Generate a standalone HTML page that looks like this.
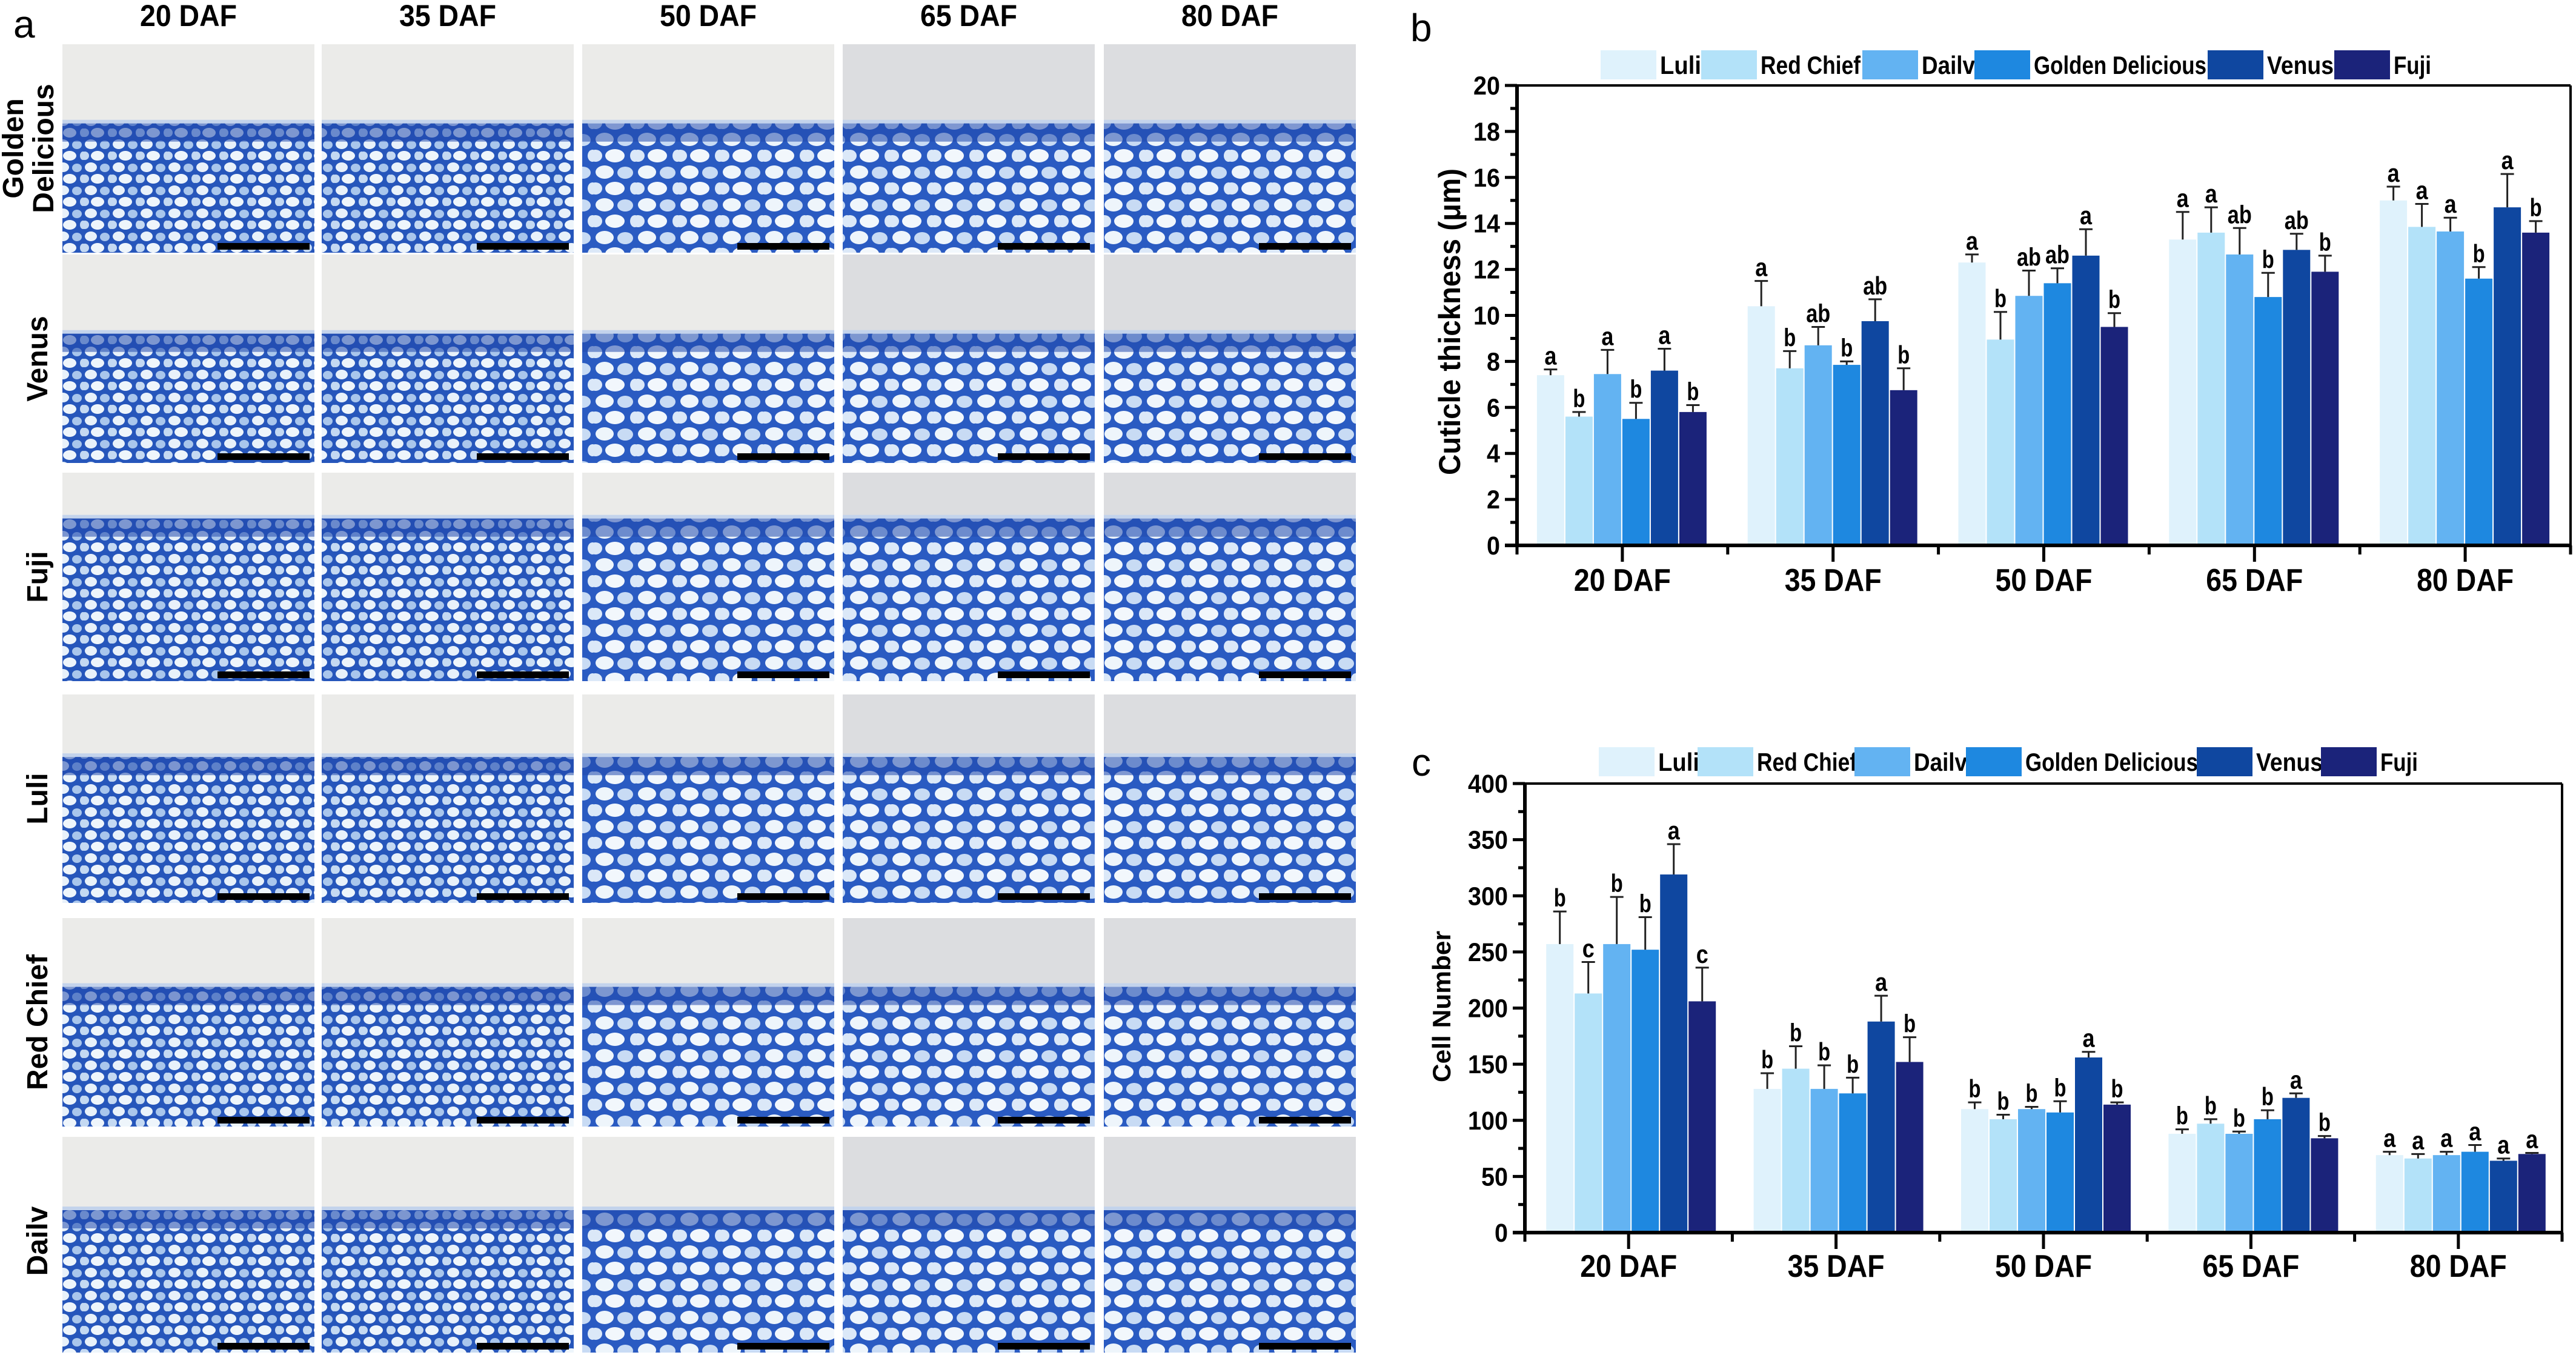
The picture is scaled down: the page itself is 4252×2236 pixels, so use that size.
<!DOCTYPE html>
<html><head><meta charset="utf-8">
<style>
html,body{margin:0;padding:0;background:#fff;}
svg{display:block;}
text{font-family:"Liberation Sans",sans-serif;}
</style></head>
<body>
<svg id="fig" width="4252" height="2236" viewBox="0 0 4252 2236" xmlns="http://www.w3.org/2000/svg">
<defs>
<pattern id="cells" width="46" height="38" patternUnits="userSpaceOnUse">
<rect width="46" height="38" fill="#2656bb"/>
<ellipse cx="12" cy="10" rx="10" ry="8" fill="#e8f1fa"/>
<ellipse cx="35" cy="11" rx="8" ry="7" fill="#a9c6ec"/>
<ellipse cx="23" cy="29" rx="11" ry="8" fill="#eef5fb"/>
<ellipse cx="2" cy="29" rx="7" ry="7" fill="#c4d9f2"/>
<ellipse cx="45" cy="29" rx="5" ry="7" fill="#c4d9f2"/>
</pattern>
<pattern id="cells2" width="70" height="54" patternUnits="userSpaceOnUse">
<rect width="70" height="54" fill="#2a5bc2"/>
<ellipse cx="18" cy="14" rx="15" ry="11" fill="#eef5fb"/>
<ellipse cx="52" cy="15" rx="13" ry="10" fill="#c8dbf4"/>
<ellipse cx="35" cy="41" rx="16" ry="11" fill="#f2f7fc"/>
<ellipse cx="3" cy="41" rx="11" ry="10" fill="#dbe8f8"/>
<ellipse cx="68" cy="41" rx="8" ry="10" fill="#dbe8f8"/>
</pattern>
</defs>
<g id="panelA"></g>
<g id="chartB"></g>
<g id="chartC"></g>
</svg>
<script>
// ---- data ----
const categories = ["20 DAF","35 DAF","50 DAF","65 DAF","80 DAF"];
const seriesNames = ["Luli","Red Chief","Dailv","Golden Delicious","Venus","Fuji"];
const seriesColors = ["#dff2fc","#b3e2f9","#63b3f2","#1e88e0","#0f47a0","#1b237a"];
const cuticleLuli = [7.4,10.4,12.3,13.3,15.0];
const cuticleRedChief = [5.6,7.7,8.95,13.6,13.85];
const cuticleDailv = [7.45,8.7,10.85,12.65,13.65];
const cuticleGolden = [5.5,7.85,11.4,10.8,11.6];
const cuticleVenus = [7.6,9.75,12.6,12.85,14.7];
const cuticleFuji = [5.8,6.75,9.5,11.9,13.6];
const cuticleErrLuli = [0.25,1.1,0.35,1.2,0.6];
const cuticleErrRedChief = [0.2,0.75,1.2,1.1,1.0];
const cuticleErrDailv = [1.05,0.8,1.1,1.15,0.6];
const cuticleErrGolden = [0.7,0.15,0.65,1.05,0.5];
const cuticleErrVenus = [0.95,0.95,1.15,0.7,1.45];
const cuticleErrFuji = [0.3,0.95,0.6,0.7,0.5];
const cuticleLetters = [["a","b","a","b","a","b"],["a","b","ab","b","ab","b"],["a","b","ab","ab","a","b"],["a","a","ab","b","ab","b"],["a","a","a","b","a","b"]];
const cuticleTicks = [0,2,4,6,8,10,12,14,16,18,20];
const cellLuli = [257,128,110,88,69];
const cellRedChief = [213,146,101,97,66];
const cellDailv = [257,128,110,88,69];
const cellGolden = [252,124,107,101,72];
const cellVenus = [319,188,156,120,64];
const cellFuji = [206,152,114,84,70];
const cellErrLuli = [29,14,6,4,3];
const cellErrRedChief = [28,20,4,4,4];
const cellErrDailv = [42,21,2,2,3];
const cellErrGolden = [29,14,10,8,6];
const cellErrVenus = [27,23,5,4,2];
const cellErrFuji = [30,22,2,2,1];
const cellLetters = [["b","c","b","b","a","c"],["b","b","b","b","a","b"],["b","b","b","b","a","b"],["b","b","b","b","a","b"],["a","a","a","a","a","a"]];
const cellTicks = [0,50,100,150,200,250,300,350,400];
const photoRows = ["Golden Delicious","Venus","Fuji","Luli","Red Chief","Dailv"];

const NS="http://www.w3.org/2000/svg";
function mk(parent,tag,attrs,txt){const e=document.createElementNS(NS,tag);for(const k in attrs)e.setAttribute(k,attrs[k]);if(txt!==undefined)e.textContent=txt;parent.appendChild(e);return e;}

// ---- panel a ----
const pa=document.getElementById('panelA');
const colX=[103,531,961,1391,1822], rowY=[73,420,780,1146,1515,1876], pw=416, ph=344;
const tissueStart=[0.38,0.38,0.22,0.30,0.33,0.34];
const lbA=mk(pa,'text',{x:22,y:62,'font-size':64,'font-family':'Liberation Serif, serif'},'a');


categories.forEach((c,i)=>{
  const t=mk(pa,'text',{x:colX[i]+pw/2,y:43,'font-size':50,'font-weight':'bold','text-anchor':'middle',textLength:160,lengthAdjust:'spacingAndGlyphs'},c);
  
  
});
photoRows.forEach((r,ri)=>{
  const cy=rowY[ri]+ph/2;
  const g=mk(pa,'g',{transform:`translate(0,${cy}) rotate(-90)`});
  
  
  if(r==="Golden Delicious"){
    mk(g,'text',{x:0,y:38,'font-size':48,'font-weight':'bold','text-anchor':'middle'},'Golden');
    mk(g,'text',{x:0,y:88,'font-size':48,'font-weight':'bold','text-anchor':'middle'},'Delicious');
  } else {
    mk(g,'text',{x:0,y:78,'font-size':48,'font-weight':'bold','text-anchor':'middle'},r);
  }
  colX.forEach((x,ci)=>{
    const y=rowY[ri];
    const ph2 = (ri===5)? 356: ph;
    const pg=mk(pa,'g',{});
    
    
    const bg = ci>=3 ? '#dcdde0':'#ebebe9';
    mk(pg,'rect',{x:x,y:y,width:pw,height:ph2,fill:bg});
    const ts=y+ph2*tissueStart[ri];
    mk(pg,'rect',{x:x,y:ts-6,width:pw,height:8,fill:'#c3d3ec'});
    mk(pg,'rect',{x:x,y:ts,width:pw,height:y+ph2-ts,fill:(ci>=2?'url(#cells2)':'url(#cells)')});
    mk(pg,'rect',{x:x,y:ts,width:pw,height:30,fill:'#2148ad',opacity:0.55});
    mk(pg,'rect',{x:x+pw-160,y:y+ph2-16,width:152,height:11,fill:'#000'});
  });
});

// ---- bar chart builder ----
const legendTextW=[68,165,88,285,110,62];
function buildChart(gid,o){
  const g=document.getElementById(gid);
  const L=o.left,R=o.right,T=o.top,B=o.bottom;
  const ymax=o.ticks[o.ticks.length-1];
  const yS=v=>B-(v/ymax)*(B-T);
  const cw=(R-L)/categories.length;
  const xC=i=>L+cw*(i+0.5);
  const pl=mk(g,'text',{x:o.lblX,y:o.lblY,'font-size':64,'font-family':'Liberation Serif, serif'},o.lbl);
  
  
  const lx=o.legendX;
  seriesNames.forEach((n,j)=>{
    const le=mk(g,'g',{});
    
    
    mk(le,'rect',{x:lx[j],y:o.legendY-24,width:92,height:48,fill:seriesColors[j]});
    mk(le,'text',{x:lx[j]+98,y:o.legendY+15,'font-size':42,'font-weight':'bold',textLength:legendTextW[j],lengthAdjust:'spacingAndGlyphs'},n);
  });
  categories.forEach((c,i)=>{
    for(let j=0;j<6;j++){
      const v=o.vals[j][i], e=o.errs[j][i];
      const bx=xC(i)+o.off+j*47;
      const bar=mk(g,'rect',{x:bx,y:yS(v),width:45,height:B-yS(v),fill:seriesColors[j]});
      
      
      const cx=bx+22.5, ty=yS(v+e);
      mk(g,'line',{x1:cx,y1:yS(v),x2:cx,y2:ty,stroke:'#222','stroke-width':3});
      mk(g,'line',{x1:cx-11,y1:ty,x2:cx+11,y2:ty,stroke:'#222','stroke-width':3});
      const lt=mk(g,'text',{x:cx,y:ty-8,'font-size':42,'font-weight':'bold','text-anchor':'middle',textLength:o.letters[i][j].length*20,lengthAdjust:'spacingAndGlyphs'},o.letters[i][j]);
      
      
    }
  });
  mk(g,'line',{x1:L,y1:T,x2:R,y2:T,stroke:'#000','stroke-width':4});
  mk(g,'line',{x1:R,y1:T,x2:R,y2:B,stroke:'#000','stroke-width':4});
  const ya=mk(g,'line',{x1:L,y1:T-2,x2:L,y2:B+3,stroke:'#000','stroke-width':6});
  
  
  const xa=mk(g,'line',{x1:L-20,y1:B,x2:R+2,y2:B,stroke:'#000','stroke-width':6});
  
  
  o.ticks.forEach((t,k)=>{
    const y=yS(t);
    mk(g,'line',{x1:L-20,y1:y,x2:L,y2:y,stroke:'#000','stroke-width':5});
    const tl=mk(g,'text',{x:L-28,y:y+15,'font-size':43,'font-weight':'bold','text-anchor':'end',textLength:String(t).length*22,lengthAdjust:'spacingAndGlyphs'},String(t));
    
    
    if(k<o.ticks.length-1){const ym=yS(t+(o.ticks[1]-o.ticks[0])/2);mk(g,'line',{x1:L-11,y1:ym,x2:L,y2:ym,stroke:'#000','stroke-width':5});}
  });
  categories.forEach((c,i)=>{
    mk(g,'line',{x1:xC(i),y1:B,x2:xC(i),y2:B+27,stroke:'#000','stroke-width':5});
    mk(g,'line',{x1:L+cw*i,y1:B,x2:L+cw*i,y2:B+15,stroke:'#000','stroke-width':5});
    const xl=mk(g,'text',{x:xC(i),y:o.xlabY,'font-size':52,'font-weight':'bold','text-anchor':'middle',textLength:160,lengthAdjust:'spacingAndGlyphs'},c);
    
    
  });
  mk(g,'line',{x1:R,y1:B,x2:R,y2:B+15,stroke:'#000','stroke-width':5});
  const yt=mk(g,'text',{x:0,y:0,'font-size':o.ytSize,'font-weight':'bold','text-anchor':'middle',textLength:o.ytLen,lengthAdjust:'spacingAndGlyphs',transform:`translate(${o.ytX},${o.ytY}) rotate(-90)`},o.ytitle);
  
  
}

buildChart('chartB',{left:2504,right:4243,top:141,bottom:900,ticks:cuticleTicks,off:-141,
  vals:[cuticleLuli,cuticleRedChief,cuticleDailv,cuticleGolden,cuticleVenus,cuticleFuji],
  errs:[cuticleErrLuli,cuticleErrRedChief,cuticleErrDailv,cuticleErrGolden,cuticleErrVenus,cuticleErrFuji],
  letters:cuticleLetters,lbl:'b',lblX:2328,lblY:68,legendX:[2642,2808,3074,3259,3644,3853],legendY:107,
  xlabY:975,ytitle:'Cuticle thickness (\u03bcm)',ytX:2410,ytY:531,ytSize:50,ytLen:506});
buildChart('chartC',{left:2517,right:4229,top:1293,bottom:2034,ticks:cellTicks,off:-136,
  vals:[cellLuli,cellRedChief,cellDailv,cellGolden,cellVenus,cellFuji],
  errs:[cellErrLuli,cellErrRedChief,cellErrDailv,cellErrGolden,cellErrVenus,cellErrFuji],
  letters:cellLetters,lbl:'c',lblX:2330,lblY:1280,legendX:[2639,2802,3061,3245,3626,3831],legendY:1257,
  xlabY:2107,ytitle:'Cell Number',ytX:2394,ytY:1661,ytSize:42,ytLen:250});
</script>
</body></html>
